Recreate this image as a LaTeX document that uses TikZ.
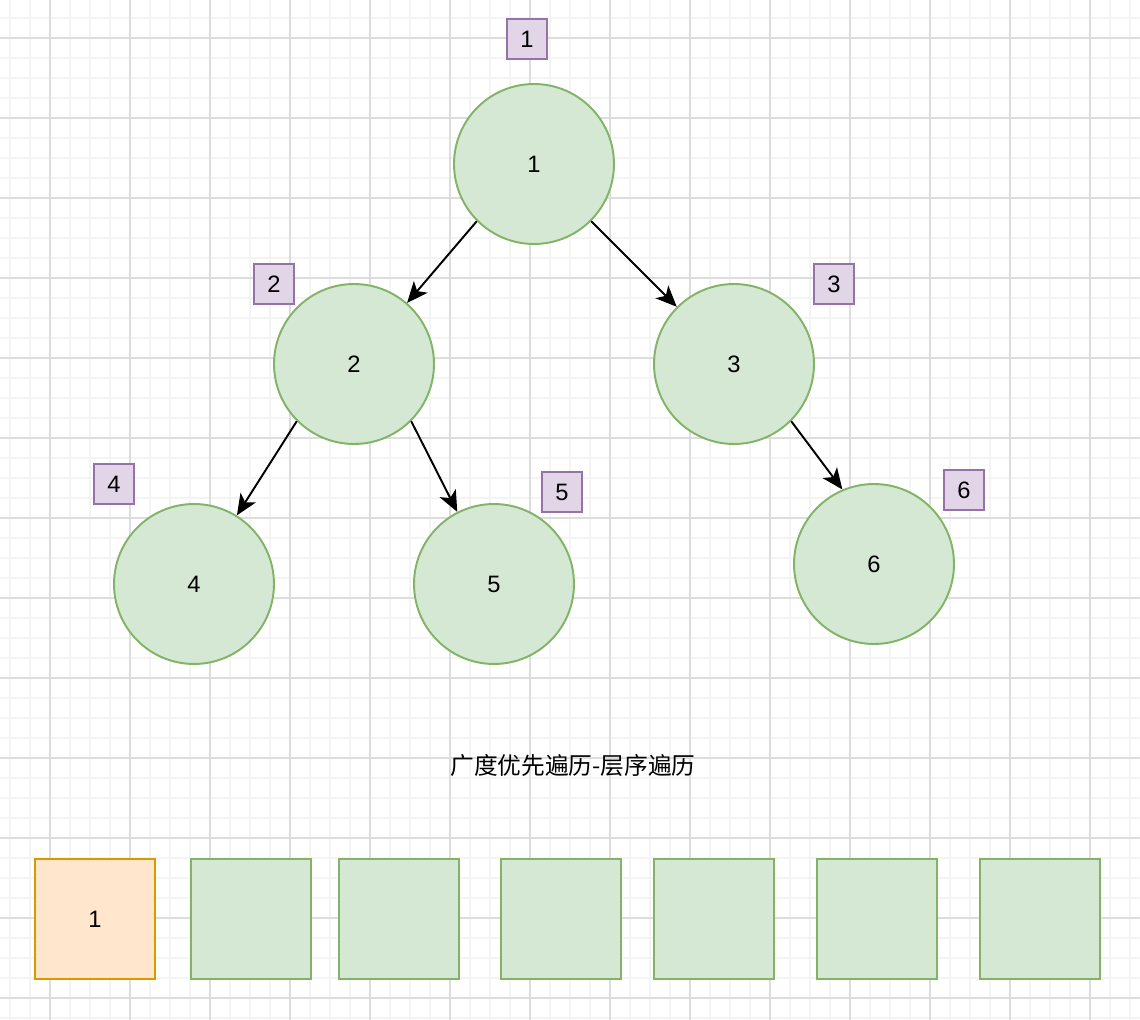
\documentclass[tikz,border=0pt]{standalone}
\usepackage{fontspec}
\setmainfont{Liberation Sans}
\newfontfamily\cjk{Noto Sans CJK SC}
\usetikzlibrary{arrows.meta}
\definecolor{leafgreen}{HTML}{D5E8D4}
\definecolor{leafline}{HTML}{82B366}
\definecolor{peach}{HTML}{FFE6CC}
\definecolor{peachline}{HTML}{D79B00}
\definecolor{lilac}{HTML}{E1D5E7}
\definecolor{lilacline}{HTML}{9673A6}
\definecolor{gridlight}{HTML}{F4F4F4}
\definecolor{griddark}{HTML}{DDDDDD}
\begin{document}
\begin{tikzpicture}[x=0.02cm,y=-0.02cm,
  treenode/.style={draw=leafline, fill=leafgreen, circle, line width=1.1pt, minimum size=3.2cm, inner sep=0pt, font=\fontsize{13.5}{16}\selectfont},
  orderbox/.style={draw=lilacline, fill=lilac, line width=1.1pt, minimum size=0.8cm, inner sep=0pt, font=\fontsize{13.5}{16}\selectfont},
  slot/.style={draw=leafline, fill=leafgreen, line width=1.1pt, minimum size=2.4cm, inner sep=0pt, font=\fontsize{13.5}{16}\selectfont},
  edge/.style={-{Stealth[length=0.42cm,width=0.36cm,inset=0.11cm]}, line width=1.1pt}]
\useasboundingbox (0,0) rectangle (1140,1020);
\fill[white] (0,0) rectangle (1140,1020);
\draw[gridlight, line width=1.1pt, step=0.4cm, shift={(10,18)}] (-40,-40) grid (1160,1040);
\draw[griddark, line width=0.8pt, step=1.6cm, shift={(50,38)}] (-100,-100) grid (1200,1100);

% tree
\node[treenode] (n1) at (534,164) {1};
\node[treenode] (n2) at (354,364) {2};
\node[treenode] (n3) at (734,364) {3};
\node[treenode] (n4) at (194,584) {4};
\node[treenode] (n5) at (494,584) {5};
\node[treenode] (n6) at (874,564) {6};

\node[orderbox] (o1) at (527,39) {1};
\node[orderbox] (o2) at (274,284) {2};
\node[orderbox] (o3) at (834,284) {3};
\node[orderbox] (o4) at (114,484) {4};
\node[orderbox] (o5) at (562,492) {5};
\node[orderbox] (o6) at (964,490) {6};

\draw[edge] (n1.225) -- (n2.49);
\draw[edge] (n1.315) -- (n3.135);
\draw[edge] (n2.225) -- (n4.58);
\draw[edge] (n2.315) -- (n5.117);
\draw[edge] (n3.315) -- (n6.113);

\node[font=\cjk\fontsize{13.5}{16}\selectfont] (title) at (573,766) {广度优先遍历-层序遍历};

% queue
\node[slot, draw=peachline, fill=peach] (q1) at (95,919) {1};
\node[slot] (q2) at (251,919) {};
\node[slot] (q3) at (399,919) {};
\node[slot] (q4) at (561,919) {};
\node[slot] (q5) at (714,919) {};
\node[slot] (q6) at (877,919) {};
\node[slot] (q7) at (1040,919) {};
\end{tikzpicture}
\end{document}
